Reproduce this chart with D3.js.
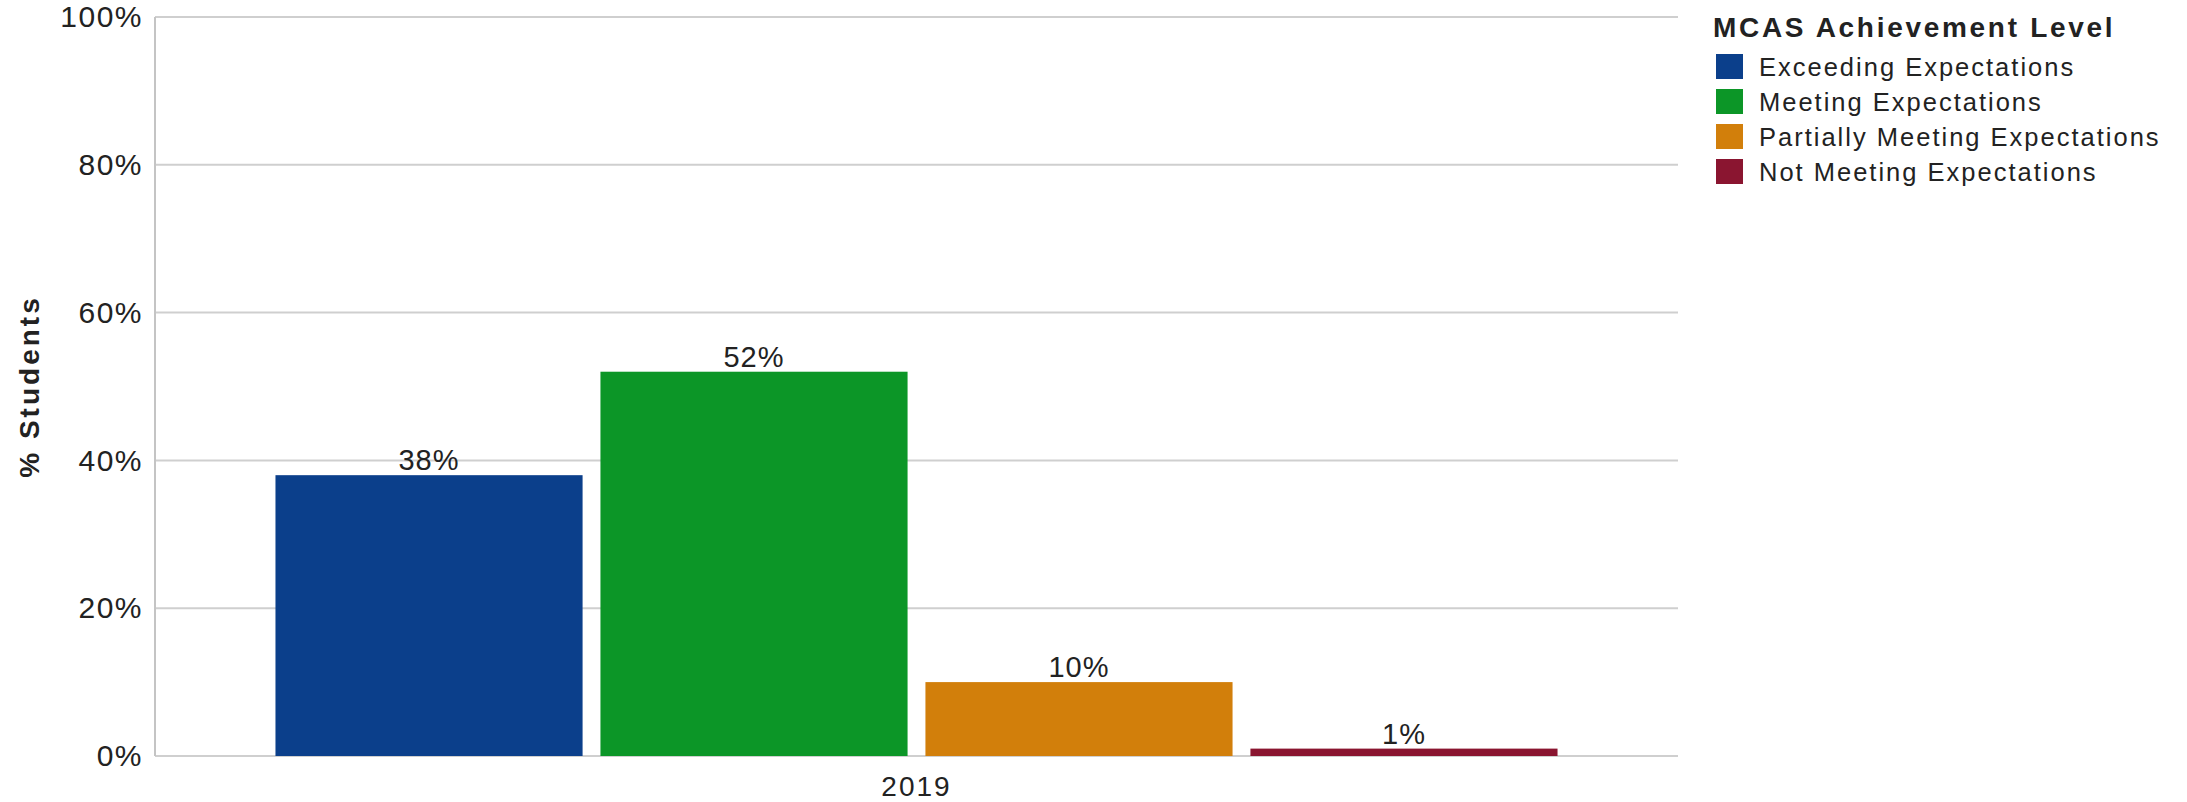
<!DOCTYPE html>
<html>
<head>
<meta charset="utf-8">
<script src="https://cdn.jsdelivr.net/npm/d3@7"></script>
<style>
  html, body { margin: 0; padding: 0; background: #fff; }
  svg { display: block; }
  text { font-family: "Liberation Sans", Arial, sans-serif; fill: #222; }
</style>
</head>
<body>
<svg id="chart" width="2187" height="802"></svg>
<script>
// ---- data ----
const years = ["2019"];
const categories = ["Exceeding Expectations", "Meeting Expectations", "Partially Meeting Expectations", "Not Meeting Expectations"];
const values2019 = [38, 52, 10, 1];
const colors = ["#0b3f8b", "#0c9627", "#d27f0b", "#8a1530"];
const yTicks = [0, 20, 40, 60, 80, 100];
const yTitle = "% Students";
const legendTitle = "MCAS Achievement Level";

// ---- layout ----
const W = 2187, H = 802;
const plot = { left: 155, right: 1678, top: 17, bottom: 756 };
const svg = d3.select("#chart");
svg.append("rect").attr("width", W).attr("height", H).attr("fill", "#fff");

const y = d3.scaleLinear().domain([0, 100]).range([plot.bottom, plot.top]);
const x0 = d3.scaleBand().domain(years).range([plot.left, plot.right]).paddingInner(0).paddingOuter(0.0858);
const x1 = d3.scaleBand().domain(categories).range([0, x0.bandwidth()]).paddingInner(0.055).paddingOuter(0.0275);
const color = d3.scaleOrdinal().domain(categories).range(colors);

// gridlines
svg.append("g").selectAll("line").data(yTicks).join("line")
  .attr("x1", plot.left).attr("x2", plot.right)
  .attr("y1", d => y(d)).attr("y2", d => y(d))
  .attr("stroke", "#cfcfcf").attr("stroke-width", 2);

// left axis line
svg.append("line").attr("x1", plot.left).attr("x2", plot.left)
  .attr("y1", plot.top).attr("y2", plot.bottom)
  .attr("stroke", "#c4c4c4").attr("stroke-width", 2);

// y tick labels
const yAxis = d3.axisLeft(y).tickValues(yTicks).tickFormat(d => d + "%").tickSize(0).tickPadding(12);
const ya = svg.append("g").attr("transform", `translate(${plot.left},0)`).call(yAxis);
ya.select(".domain").remove();
ya.selectAll("text").attr("font-size", 30).attr("letter-spacing", 1.5)
  .attr("font-family", "Liberation Sans, Arial, sans-serif").attr("fill", "#222");

// x axis label
const xAxis = d3.axisBottom(x0).tickSize(0).tickPadding(20);
const xa = svg.append("g").attr("transform", `translate(0,${plot.bottom})`).call(xAxis);
xa.select(".domain").remove();
xa.selectAll("text").attr("font-size", 28).attr("letter-spacing", 2)
  .attr("font-family", "Liberation Sans, Arial, sans-serif").attr("fill", "#222");

// bars
const rows = years.map(yr => ({ year: yr, vals: categories.map((c, i) => ({ cat: c, v: values2019[i] })) }));
const groups = svg.append("g").selectAll("g").data(rows).join("g")
  .attr("transform", d => `translate(${x0(d.year)},0)`);
groups.selectAll("rect").data(d => d.vals).join("rect")
  .attr("x", d => x1(d.cat)).attr("width", x1.bandwidth())
  .attr("y", d => y(d.v)).attr("height", d => y(0) - y(d.v))
  .attr("fill", d => color(d.cat));
groups.selectAll("text").data(d => d.vals).join("text")
  .attr("x", d => x1(d.cat) + x1.bandwidth() / 2)
  .attr("y", d => y(d.v) - 5)
  .attr("text-anchor", "middle").attr("font-size", 29).attr("letter-spacing", 1)
  .text(d => d.v + "%");

// y title
svg.append("text")
  .attr("transform", `translate(39,${(plot.top + plot.bottom) / 2}) rotate(-90)`)
  .attr("text-anchor", "middle").attr("font-size", 28).attr("font-weight", "bold")
  .attr("letter-spacing", 3).attr("fill", "#111")
  .text(yTitle);

// legend
const lg = svg.append("g");
lg.append("text").attr("x", 1713).attr("y", 37).attr("font-size", 28).attr("font-weight", "bold")
  .attr("letter-spacing", 2.7).attr("fill", "#111").text(legendTitle);
const items = lg.selectAll("g.item").data(categories).join("g").attr("class", "item")
  .attr("transform", (d, i) => `translate(1716,${67 + i * 35})`);
items.append("rect").attr("x", 0).attr("y", -13).attr("width", 27).attr("height", 25)
  .attr("fill", d => color(d));
items.append("text").attr("x", 43).attr("y", 9).attr("font-size", 25.5)
  .attr("letter-spacing", 2).text(d => d);
</script>
</body>
</html>
